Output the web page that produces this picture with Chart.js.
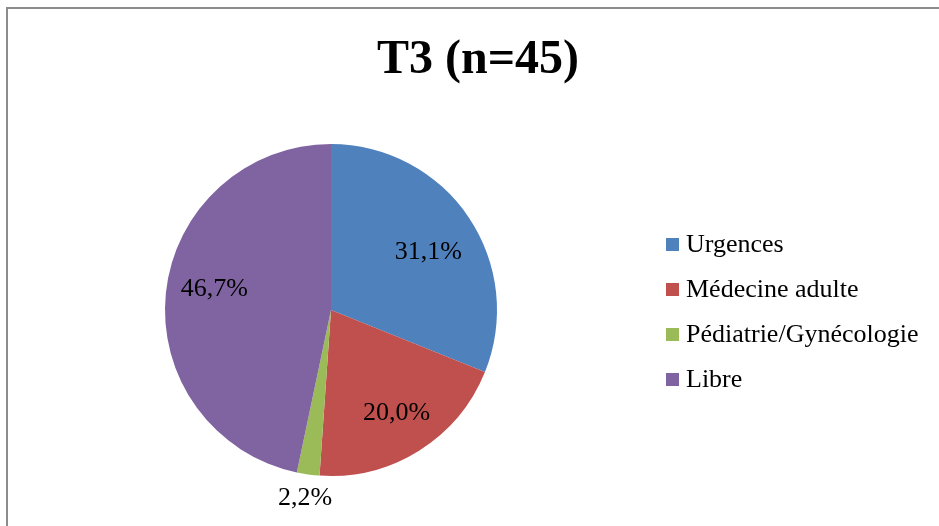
<!DOCTYPE html>
<html>
<head>
<meta charset="utf-8">
<script src="https://cdn.jsdelivr.net/npm/chart.js@4"></script>
<style>
    html, body { margin: 0; padding: 0; background: #fff; }
    #wrap { position: relative; width: 939px; height: 526px; }
</style>
</head>
<body>
<div id="wrap"><canvas id="pieChart" width="939" height="526"></canvas></div>
<script>
const chartTitle = 'T3 (n=45)';
const categories = ['Urgences', 'Médecine adulte', 'Pédiatrie/Gynécologie', 'Libre'];
const shares = [31.1, 20.0, 2.2, 46.7];
const sliceColors = ['#4F81BD', '#C0504D', '#9BBB59', '#8064A2'];

const serif = "'Liberation Serif', 'Times New Roman', serif";
const fmtPct = v => v.toFixed(1).replace('.', ',') + '%';

// small nudges so the labels sit where Excel's "best fit" put them
const labelNudge = [[1, 5], [4, 2], [0, 0], [-1, -11]];

// frame, title, legend and slice labels drawn straight onto the canvas
const decor = {
    id: 'decor',
    beforeDraw: chart => {
        const ctx = chart.ctx;
        ctx.save();
        ctx.fillStyle = '#8c8c8c';
        ctx.fillRect(6, 7, 933, 2);
        ctx.fillRect(6, 7, 2, 519);
        ctx.restore();
    },
    afterDraw: chart => {
        const ctx = chart.ctx;
        ctx.save();
        ctx.fillStyle = '#000';
        ctx.textAlign = 'center';
        ctx.textBaseline = 'alphabetic';
        ctx.font = 'bold 48px ' + serif;
        ctx.fillText(chartTitle, 478, 73);

        // legend
        ctx.font = '26px ' + serif;
        ctx.textAlign = 'left';
        categories.forEach((c, i) => {
            const base = 252 + i * 45;
            ctx.fillStyle = sliceColors[i];
            ctx.fillRect(666, base - 14, 13, 13);
            ctx.fillStyle = '#000';
            ctx.fillText(c, 686, base);
        });

        // data labels
        ctx.textAlign = 'center';
        const meta = chart.getDatasetMeta(0);
        meta.data.forEach((arc, i) => {
            const p = arc.getProps(['x', 'y', 'startAngle', 'endAngle', 'outerRadius'], true);
            const mid = (p.startAngle + p.endAngle) / 2;
            const small = shares[i] < 5;
            const r = small ? p.outerRadius + 22 : p.outerRadius * 0.7;
            const cx = p.x + Math.cos(mid) * r + labelNudge[i][0];
            const cy = p.y + Math.sin(mid) * r + labelNudge[i][1];
            ctx.fillText(fmtPct(shares[i]), cx, cy + 9);
        });
        ctx.restore();
    }
};

new Chart(document.getElementById('pieChart'), {
    type: 'pie',
    data: {
        labels: categories,
        datasets: [{
            data: shares,
            backgroundColor: sliceColors,
            borderWidth: 0
        }]
    },
    options: {
        responsive: false,
        animation: false,
        layout: { padding: { left: 165, right: 442, top: 144, bottom: 50 } },
        plugins: {
            legend: { display: false },
            title: { display: false },
            tooltip: { enabled: false }
        }
    },
    plugins: [decor]
});
</script>
</body>
</html>
